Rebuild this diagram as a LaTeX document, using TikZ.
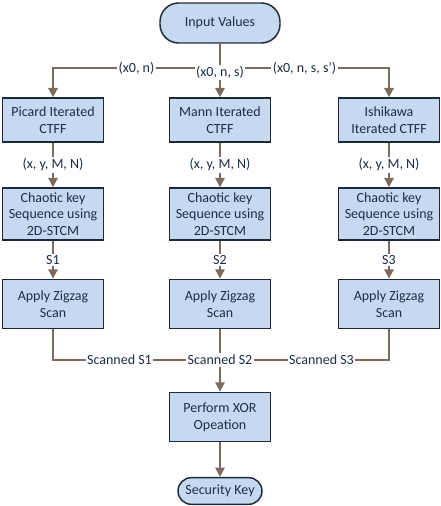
\documentclass[tikz,border=0pt]{standalone}
\usepackage{fontspec}
\setmainfont{Carlito}
\usepackage{tikz}
\usepackage{xcolor}
\usetikzlibrary{shapes,arrows.meta,positioning}
\definecolor{boxfill}{HTML}{C6D9F0}
\definecolor{boxline}{HTML}{1F2A38}
\definecolor{flowc}{HTML}{7D6B5F}
\definecolor{txt}{HTML}{1F2D45}

\tikzset{
  procbox/.style={draw=boxline,line width=1.1pt,fill=boxfill,text=txt,align=center,
    minimum width=76pt,font=\fontsize{10.5}{12.5}\selectfont},
  termbox/.style={procbox,rounded corners=14pt},
  flow/.style={draw=flowc,line width=1.5pt,-{Triangle[width=7pt,length=7pt]}},
  link/.style={draw=flowc,line width=1.5pt},
  lbl/.style={fill=white,text=txt,inner sep=1pt,font=\fontsize{10.5}{12.5}\selectfont}
}

\begin{document}
\begin{tikzpicture}[x=0.75pt,y=-0.75pt]
\useasboundingbox (0,0) rectangle (441,506);
\node[termbox,minimum width=90pt,minimum height=30pt] (in) at (220,23) {Input Values};
\coordinate (split) at (220,68);

\node[procbox,minimum height=33pt] (picard) at (53,120) {Picard Iterated\\CTFF};
\node[procbox,minimum height=33pt] (mann) at (220,120) {Mann Iterated\\CTFF};
\node[procbox,minimum height=33pt] (ishi) at (389,120) {Ishikawa\\Iterated CTFF};

\node[procbox,minimum height=39pt] (key1) at (53,214) {Chaotic key\\Sequence using\\2D-STCM};
\node[procbox,minimum height=39pt] (key2) at (220,214) {Chaotic key\\Sequence using\\2D-STCM};
\node[procbox,minimum height=39pt] (key3) at (389,214) {Chaotic key\\Sequence using\\2D-STCM};

\node[procbox,minimum height=37pt] (zz1) at (53,304) {Apply Zigzag\\Scan};
\node[procbox,minimum height=37pt] (zz2) at (220,304) {Apply Zigzag\\Scan};
\node[procbox,minimum height=37pt] (zz3) at (389,304) {Apply Zigzag\\Scan};

\node[lbl] (scan2) at (220,360) {Scanned S2};
\node[procbox,minimum height=37pt] (xor) at (220,417) {Perform XOR\\Opeation};
\node[termbox,minimum width=63pt,minimum height=20pt,rounded corners=10pt] (sk) at (220,491) {Security Key};

% input values to the three iterations
\draw[link] (in) -- (split);
\draw[flow] (split) -| (picard) node[pos=0.25,lbl] {(x0, n)};
\draw[flow] (split) -| (ishi) node[pos=0.25,lbl] {(x0, n, s, s’)};
\draw[flow] (split) -- (mann) node[pos=0.15,lbl] {(x0, n, s)};

% key sequences
\draw[flow] (picard) -- (key1) node[midway,lbl] {(x, y, M, N)};
\draw[flow] (mann) -- (key2) node[midway,lbl] {(x, y, M, N)};
\draw[flow] (ishi) -- (key3) node[midway,lbl] {(x, y, M, N)};
\draw[flow] (key1) -- (zz1) node[midway,lbl] {S1};
\draw[flow] (key2) -- (zz2) node[midway,lbl] {S2};
\draw[flow] (key3) -- (zz3) node[midway,lbl] {S3};

% merge
\draw[link] (zz1) |- (scan2) node[pos=0.75,lbl] {Scanned S1};
\draw[link] (zz3) |- (scan2) node[pos=0.75,lbl] {Scanned S3};
\draw[link] (zz2) -- (scan2);
\draw[flow] (scan2) -- (xor);
\draw[flow] (xor) -- (sk);
\end{tikzpicture}
\end{document}
